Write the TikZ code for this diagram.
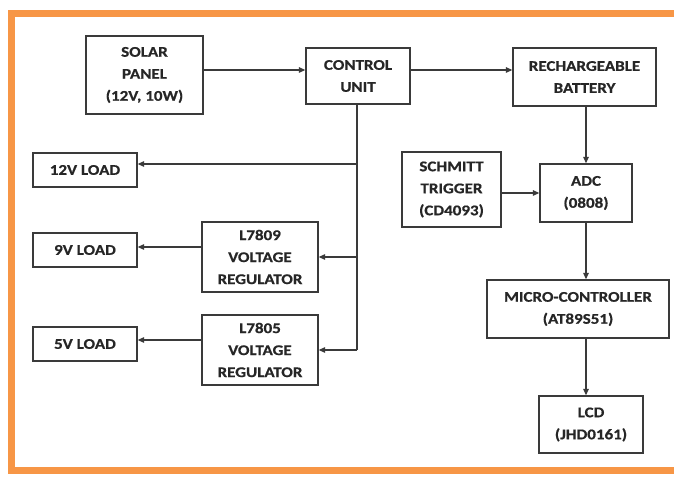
\documentclass[tikz,border=0pt]{standalone}
\usepackage{fontspec}
\setmainfont{Carlito}[FakeStretch=1.15, BoldFeatures={FakeBold=0.6}]
\usetikzlibrary{arrows.meta}
\definecolor{frameorange}{HTML}{F79646}
\definecolor{linegray}{HTML}{3A3A3A}
\definecolor{textgray}{HTML}{262626}
\tikzset{
  blk/.style={draw=linegray, line width=1.3pt, rectangle, align=center, inner sep=0pt,
    font=\fontsize{14.8}{22}\selectfont\bfseries, text=textgray},
  conn/.style={draw=linegray, line width=1.2pt},
  arr/.style={conn, -{Triangle[length=6.5pt,width=5.5pt]}}
}
\begin{document}
\begin{tikzpicture}[x=1pt,y=-1pt]
\useasboundingbox (0,0) rectangle (674,478);
\fill[white] (0,0) rectangle (674,478);
\begin{scope}
\clip (0,0) rectangle (674,478);
\draw[frameorange, line width=7.5pt] (11.5,13.5) rectangle (690,470.5);
\end{scope}
% blocks
\node[blk, minimum width=117pt, minimum height=78pt] (solar) at (144.5,75) {SOLAR\\PANEL\\(12V, 10W)};
\node[blk, minimum width=104pt, minimum height=56pt] (control) at (358,76) {CONTROL\\UNIT};
\node[blk, minimum width=143pt, minimum height=58pt] (battery) at (584.5,77) {RECHARGEABLE\\BATTERY};
\node[blk, minimum width=104pt, minimum height=34pt] (load12) at (85,170) {12V LOAD};
\node[blk, minimum width=99pt, minimum height=75pt] (schmitt) at (451.5,189.5) {SCHMITT\\TRIGGER\\(CD4093)};
\node[blk, minimum width=92pt, minimum height=58pt] (adc) at (586,193) {ADC\\(0808)};
\node[blk, minimum width=104pt, minimum height=34pt] (load9) at (85,250) {9V LOAD};
\node[blk, minimum width=116pt, minimum height=70pt] (reg9) at (260,257) {L7809\\VOLTAGE\\REGULATOR};
\node[blk, minimum width=104pt, minimum height=34pt] (load5) at (85,344) {5V LOAD};
\node[blk, minimum width=116pt, minimum height=70pt] (reg5) at (260,350) {L7805\\VOLTAGE\\REGULATOR};
\node[blk, minimum width=182pt, minimum height=58pt] (micro) at (578,309) {MICRO-CONTROLLER\\(AT89S51)};
\node[blk, minimum width=104pt, minimum height=57pt] (lcd) at (591,424.5) {LCD\\(JHD0161)};
% helper coordinates
\coordinate (toprow) at (0,70);
\coordinate (bus) at (357,0);
\coordinate (b12) at (357,164);
\coordinate (b5) at (357,350);
\coordinate (r9) at (0,247);
\coordinate (r5) at (0,340);
% connectors
\draw[arr] (solar.east |- toprow) -- (control.west |- toprow);
\draw[arr] (control.east |- toprow) -- (battery.west |- toprow);
\draw[conn] (control.south -| bus) -- (b5);
\draw[arr] (b12) -- (load12.east |- b12);
\draw[arr] (bus |- reg9.east) -- (reg9.east);
\draw[arr] (b5) -- (reg5.east |- b5);
\draw[arr] (reg9.west |- r9) -- (load9.east |- r9);
\draw[arr] (reg5.west |- r5) -- (load5.east |- r5);
\draw[arr] (battery.south -| adc.south) -- (adc.north);
\draw[arr] (schmitt.east |- adc.west) -- (adc.west);
\draw[arr] (adc.south) -- (adc.south |- micro.north);
\draw[arr] (adc.south |- micro.south) -- (adc.south |- lcd.north);
\end{tikzpicture}
\end{document}
